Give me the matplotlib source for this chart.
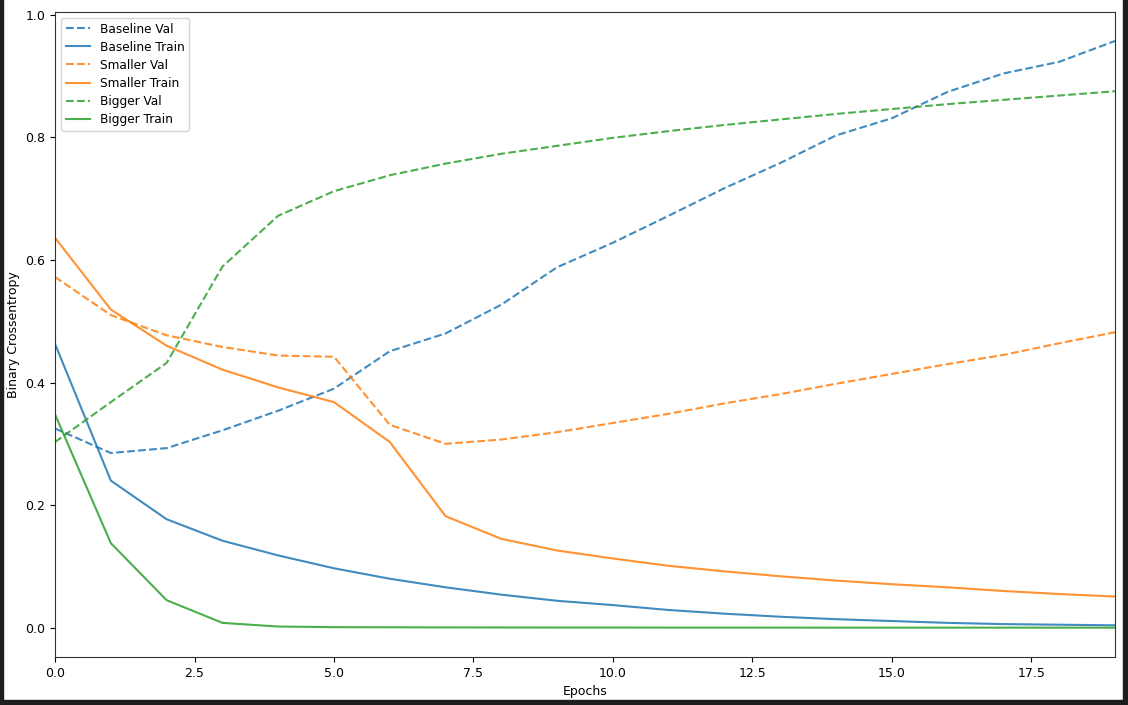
import matplotlib
matplotlib.use("Agg")
import matplotlib.pyplot as plt
from matplotlib.patches import Rectangle

# ─────────────── Data ───────────────
epochs = list(range(20))

baseline_val = [0.325, 0.285, 0.293, 0.322, 0.354, 0.390, 0.451, 0.480, 0.527, 0.588,
                0.628, 0.672, 0.717, 0.758, 0.803, 0.831, 0.874, 0.904, 0.923, 0.957]
baseline_train = [0.463, 0.240, 0.177, 0.142, 0.118, 0.097, 0.080, 0.066, 0.054, 0.044,
                  0.037, 0.029, 0.023, 0.018, 0.014, 0.011, 0.008, 0.006, 0.005, 0.004]

smaller_val = [0.572, 0.510, 0.477, 0.458, 0.444, 0.442, 0.331, 0.300, 0.307, 0.319,
               0.334, 0.349, 0.366, 0.381, 0.398, 0.414, 0.430, 0.445, 0.464, 0.482]
smaller_train = [0.636, 0.519, 0.460, 0.421, 0.392, 0.368, 0.303, 0.182, 0.145, 0.126,
                 0.113, 0.101, 0.092, 0.084, 0.077, 0.071, 0.066, 0.060, 0.055, 0.051]

bigger_val = [0.303, 0.368, 0.432, 0.589, 0.672, 0.712, 0.738, 0.757, 0.773, 0.786,
              0.799, 0.810, 0.820, 0.829, 0.838, 0.846, 0.854, 0.861, 0.868, 0.875]
bigger_train = [0.348, 0.138, 0.045, 0.008, 0.002, 0.001, 0.0008, 0.0006, 0.0005, 0.0004,
                0.0004, 0.0003, 0.0003, 0.0003, 0.0002, 0.0002, 0.0002, 0.0002, 0.0002, 0.0002]

histories = [
    ("Baseline", baseline_val, baseline_train),
    ("Smaller", smaller_val, smaller_train),
    ("Bigger", bigger_val, bigger_train),
]

# ─────────────── Plot ───────────────
plt.rcParams["font.size"] = 9
plt.rcParams["axes.edgecolor"] = "#333333"

fig = plt.figure(figsize=(11.28, 7.05), dpi=100)
ax = fig.add_axes([0.0488, 0.0681, 0.9397, 0.9154])

for name, val, train in histories:
    line = ax.plot(epochs, val, "--", alpha=0.85, label=name + " Val")
    ax.plot(epochs, train, color=line[0].get_color(), alpha=0.85, label=name + " Train")

ax.set_xlabel("Epochs")
ax.set_ylabel("Binary Crossentropy")
ax.set_xlim(0, max(epochs))
ax.legend(loc="upper left", fontsize=8.7, labelspacing=0.42)

# dark screenshot frame around the figure
for x, y, w, h in [(0, 0, 0.0027, 1), (0, 0, 1, 0.0065), (0.9955, 0, 0.0045, 1)]:
    fig.patches.append(Rectangle((x, y), w, h, transform=fig.transFigure,
                                 color="#1e1e1e", zorder=10))

fig.savefig("out.png", dpi=100)
